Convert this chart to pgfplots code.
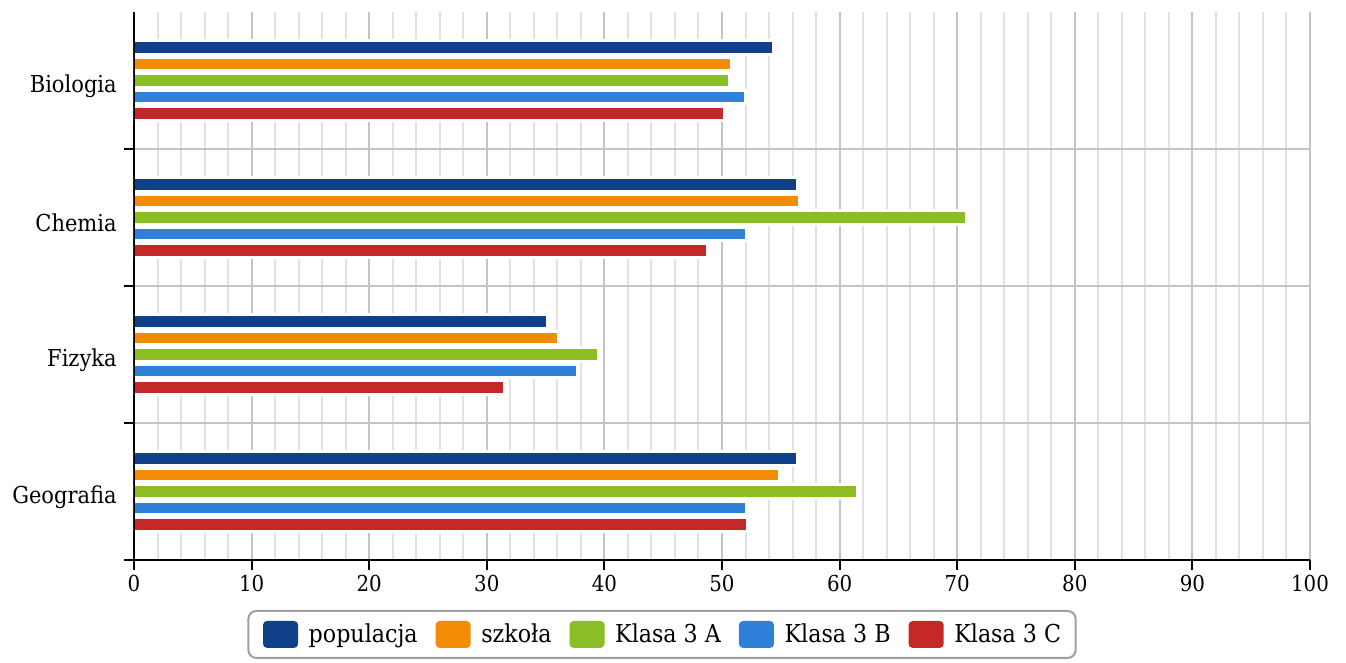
\documentclass[border=0pt]{standalone}
\usepackage{fontspec}
\setmainfont{DejaVu Serif Condensed}
\usepackage{pgfplots}
\pgfplotsset{compat=1.18}
\definecolor{cpop}{RGB}{17,64,139}
\definecolor{cszk}{RGB}{242,140,4}
\definecolor{ca}{RGB}{139,189,36}
\definecolor{cb}{RGB}{47,128,217}
\definecolor{cc}{RGB}{197,40,40}
\definecolor{gmaj}{RGB}{196,196,196}
\definecolor{gmin}{RGB}{226,226,226}
\definecolor{lgd}{RGB}{160,160,160}
\pgfplotsset{
  swatch/.style={legend image code/.code={\path[##1, draw=none, rounded corners=3pt] (0pt,-10.1pt) rectangle (26.25pt,10.1pt);}},
}
\begin{document}
\begin{tikzpicture}
\begin{axis}[name=ax,
  scale only axis, width=882pt, height=411pt,
  xbar, xmin=0, xmax=100, ymin=-0.5, ymax=3.5,
  axis x line*=bottom, axis y line*=left,
  axis line style={black, line width=1.5pt},
  xtick distance=10, minor x tick num=4,
  xmajorgrids, xminorgrids,
  major grid style={gmaj, line width=1.5pt},
  minor grid style={gmin, line width=1.5pt},
  tick align=outside,
  major tick length=7.5pt, minor tick length=0pt,
  tick style={black, line width=1.5pt},
  ytick={-0.5,0.5,1.5,2.5}, yticklabels={,,,},
  ymajorgrids,
  extra y ticks={0,1,2,3},
  extra y tick labels={Geografia,Fizyka,Chemia,Biologia},
  extra y tick style={ymajorgrids=false, tick style={draw=none},
     yticklabel style={font=\fontsize{17.5pt}{21pt}\selectfont, xshift=-2pt, yshift=-4pt}},
  xticklabel style={font=\fontsize{16.5pt}{20pt}\selectfont},
  /pgf/number format/assume math mode=true,
  legend style={at={(0.449,-0.0912)}, anchor=north, legend columns=5,
     draw=lgd, line width=1.5pt, rounded corners=6pt,
     font=\fontsize{18.5pt}{22pt}\selectfont,
     nodes={inner sep=0pt},
     /tikz/every odd column/.append style={column sep=8pt},
     /tikz/every even column/.append style={column sep=13.5pt},
     inner xsep=11pt, inner ysep=7.5pt},
]
\addplot[bar width=0.0985, bar shift=0.24, fill=cpop, draw=white, line width=2.25pt, swatch]
  coordinates {(54.4,3) (56.4,2) (35.2,1) (56.4,0)};
\addplot[bar width=0.0985, bar shift=0.12, fill=cszk, draw=white, line width=2.25pt, swatch]
  coordinates {(50.8,3) (56.6,2) (36.1,1) (54.9,0)};
\addplot[bar width=0.0985, bar shift=0, fill=ca, draw=white, line width=2.25pt, swatch]
  coordinates {(50.6,3) (70.8,2) (39.5,1) (61.5,0)};
\addplot[bar width=0.0985, bar shift=-0.12, fill=cb, draw=white, line width=2.25pt, swatch]
  coordinates {(52.0,3) (52.1,2) (37.7,1) (52.1,0)};
\addplot[bar width=0.0985, bar shift=-0.24, fill=cc, draw=white, line width=2.25pt, swatch]
  coordinates {(50.2,3) (48.8,2) (31.5,1) (52.2,0)};
\legend{populacja, szkoła, Klasa 3 A, Klasa 3 B, Klasa 3 C}
\draw[black, line width=1.5pt] (rel axis cs:0,0) -- (rel axis cs:0,1);
\end{axis}
\path ([shift={(-100.5pt,420pt)}]ax.south west) ([shift={(909pt,-76.5pt)}]ax.south west);
\end{tikzpicture}
\end{document}
